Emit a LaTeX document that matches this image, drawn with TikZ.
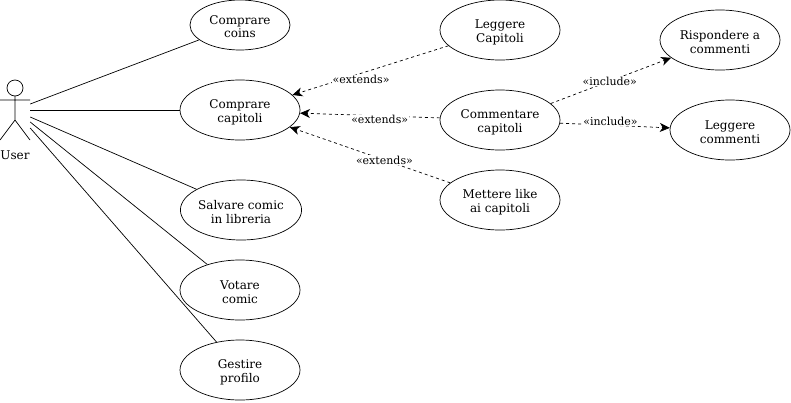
\documentclass[tikz,border=0pt]{standalone}
\usepackage{fontspec}
\setmainfont{DejaVu Serif}
\usetikzlibrary{arrows.meta,shapes.geometric}
\tikzset{
  usecase/.style={draw,line width=0.7pt,ellipse,inner sep=0pt,minimum width=#1,align=center,font=\fontsize{12}{14}\selectfont},
  usecase/.default=120pt,
  link/.style={line width=0.7pt},
  dep/.style={line width=0.7pt,dash pattern=on 3pt off 3pt,-{Stealth[length=10pt,width=9pt,inset=3pt]}},
  lab/.style={fill=white,inner sep=0.5pt,font=\fontsize{11}{13}\selectfont},
}
\begin{document}
\begin{tikzpicture}[x=1pt,y=-1pt]
\useasboundingbox (0,0) rectangle (791,402);
% actor
\node[minimum width=30pt,minimum height=60pt,inner sep=0pt] (user) at (15,110) {};
\draw[link] (15,88) circle (8pt);
\draw[link] (15,96) -- (15,120) (0,100) -- (30,100) (0,140) -- (15,120) -- (30,140);
\node[font=\fontsize{12}{15}\selectfont,inner sep=0pt] (userlab) at (15,155) {User};
% use cases
\node[usecase=100pt,minimum height=50pt] (coins) at (240,25) {\\[-2pt]Comprare\\[-0.5pt]coins};
\node[usecase,minimum height=60pt] (cap) at (240,110) {\\[-1pt]Comprare\\[-0.5pt]capitoli};
\node[usecase,minimum height=60pt] (salv) at (241,210) {\\[-1pt]Salvare comic\\in libreria};
\node[usecase,minimum height=60pt] (vot) at (240,290) {\\[-1pt]Votare\\comic};
\node[usecase,minimum height=60pt] (gest) at (240,370) {\\[-1pt]Gestire\\profilo};
\node[usecase,minimum height=60pt] (legg) at (500,30) {\\[-1pt]Leggere\\Capitoli};
\node[usecase,minimum height=60pt] (comm) at (500,120) {\\[-1pt]Commentare\\capitoli};
\node[usecase,minimum height=60pt] (like) at (500,200) {\\[-1pt]Mettere like\\ai capitoli};
\node[usecase,minimum height=60pt] (risp) at (720,40) {\\[-1pt]Rispondere a\\commenti};
\node[usecase,minimum height=60pt] (lcom) at (730,130) {\\[-1pt]Leggere\\commenti};
% associations
\draw[link] ([yshift=6pt]user.east) -- (coins.200);
\draw[link] (user.east) -- (cap);
\draw[link] ([yshift=-7pt]user.east) -- (salv.155);
\draw[link] ([yshift=-12pt]user.east) -- (vot.142);
\draw[link] ([yshift=-18pt]user.east) -- (gest.130);
% dependencies
\draw[dep] (legg.197.7) -- node[lab,pos=0.56,yshift=-6pt] {«extends»} (cap.16);
\draw[dep] (comm.178) -- node[lab,pos=0.43,yshift=-4pt] {«extends»} (cap.357);
\draw[dep] (like.161) -- node[lab,pos=0.41] {«extends»} (cap.341.6);
\draw[dep] (comm.18.4) -- node[lab,pos=0.49] {«include»} (risp.200);
\draw[dep] (comm.-3) -- node[lab,pos=0.46,yshift=4pt] {«include»} (lcom.178);
\end{tikzpicture}
\end{document}
